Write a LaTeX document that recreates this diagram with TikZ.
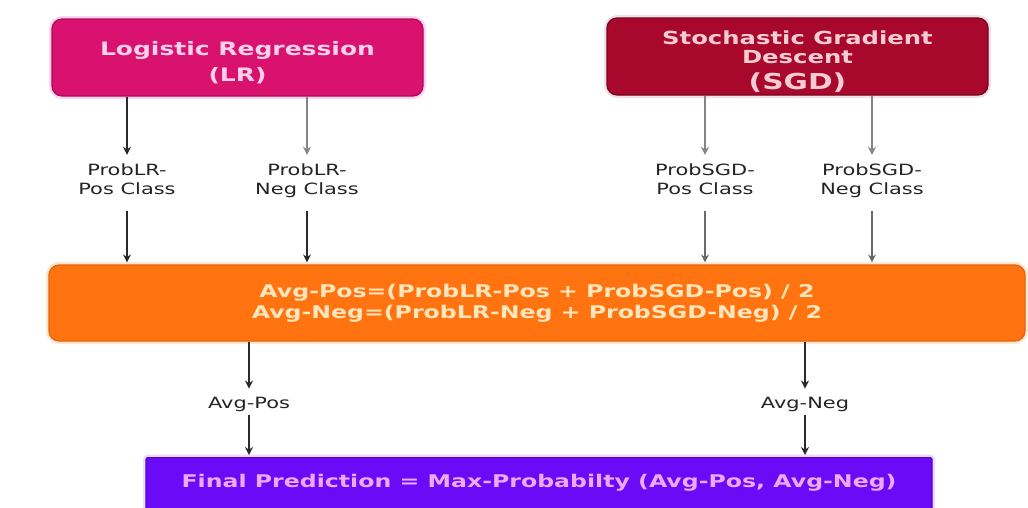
\documentclass[tikz,border=0pt]{standalone}
\usepackage{fontspec}
\setmainfont{DejaVu Sans}
\newfontfamily\wbold{DejaVu Sans Bold}[FakeStretch=1.35]
\newfontfamily\wreg{DejaVu Sans}[FakeStretch=1.35]
\usetikzlibrary{arrows.meta}
\definecolor{lrfill}{HTML}{D9126F}
\definecolor{lrdraw}{HTML}{B0085A}
\definecolor{lrtext}{HTML}{FAD0EA}
\definecolor{lrhalo}{HTML}{FBD6EC}
\definecolor{sgdfill}{HTML}{A8082C}
\definecolor{sgddraw}{HTML}{7E0020}
\definecolor{sgdtext}{HTML}{F4CCD2}
\definecolor{sgdhalo}{HTML}{EFE2E4}
\definecolor{orfill}{HTML}{FF7410}
\definecolor{ordraw}{HTML}{E2620A}
\definecolor{ortext}{HTML}{FFE6BC}
\definecolor{orhalo}{HTML}{FDE8D2}
\definecolor{pufill}{HTML}{6A0AF6}
\definecolor{pudraw}{HTML}{5400D6}
\definecolor{putext}{HTML}{F0A8F6}
\definecolor{puhalo}{HTML}{EADCFF}
\definecolor{lblcol}{HTML}{242424}
\definecolor{darkarr}{HTML}{2A2A2A}
\definecolor{grayarr}{HTML}{858585}
\begin{document}
\begin{tikzpicture}[x=1pt,y=-1pt,
  box/.style={rounded corners=10pt, line width=1.2pt, align=center, inner sep=0pt},
  lbl/.style={font=\wreg\fontsize{15.5}{19}\selectfont, text=lblcol, align=center, inner sep=0pt},
  arr/.style={-{Stealth[length=8pt,width=8pt]}, line width=1.4pt, draw=darkarr},
  garr/.style={arr, draw=grayarr}]
\useasboundingbox (0,0) rectangle (1028,507);
\fill[white] (0,0) rectangle (1028,507);

\node[box, preaction={draw=lrhalo, line width=6pt}, fill=lrfill, draw=lrdraw, text=lrtext,
  minimum width=371pt, minimum height=77pt, font=\wbold\fontsize{18.5}{26}\selectfont]
  (lr) at (237.5,57.5) {\rule{0pt}{24pt}Logistic Regression\\(LR)};
\node[box, preaction={draw=sgdhalo, line width=6pt}, fill=sgdfill, draw=sgddraw, text=sgdtext,
  minimum width=381pt, minimum height=77pt, font=\wbold\fontsize{18}{19}\selectfont]
  (sgd) at (797.5,56.5) {\rule{0pt}{23.5pt}Stochastic Gradient\\Descent\\[7pt]{\fontsize{22}{19}\selectfont (SGD)}};

\node[lbl] (lrpos) at (127,181) {ProbLR-\\Pos Class\vphantom{g}};
\node[lbl] (lrneg) at (307,181) {ProbLR-\\Neg Class};
\node[lbl] (sgdpos) at (705,181) {ProbSGD-\\Pos Class\vphantom{g}};
\node[lbl] (sgdneg) at (872,181) {ProbSGD-\\Neg Class};

\node[box, preaction={draw=orhalo, line width=6pt}, fill=orfill, draw=ordraw, text=ortext,
  minimum width=976pt, minimum height=76pt, font=\wbold\fontsize{17.5}{21}\selectfont]
  (avg) at (537,303) {Avg-Pos=(ProbLR-Pos + ProbSGD-Pos) / 2\\Avg-Neg=(ProbLR-Neg + ProbSGD-Neg) / 2};

\node[lbl] (apos) at (249,404) {Avg-Pos\vphantom{g}};
\node[lbl] (aneg) at (805,404) {Avg-Neg};

\node[box, rounded corners=2pt, preaction={draw=puhalo, line width=6pt}, fill=pufill, draw=pudraw, text=putext,
  minimum width=786pt, inner ysep=0pt, text height=30pt, text depth=45pt, anchor=north,
  font=\wbold\fontsize{17.5}{21}\selectfont]
  (final) at (539,457) {Final Prediction = Max-Probabilty (Avg-Pos, Avg-Neg)};

% LR arrows
\draw[arr, shorten >=9pt] (lr.south -| lrpos.north) -- (lrpos.north);
\draw[garr, shorten >=9pt] (lr.south -| lrneg.north) -- (lrneg.north);
\draw[arr, shorten <=13pt, shorten >=2pt] (lrpos.south) -- (lrpos.south |- avg.north);
\draw[arr, shorten <=13pt, shorten >=2pt] (lrneg.south) -- (lrneg.south |- avg.north);
% SGD arrows
\draw[garr, shorten >=9pt] (sgd.south -| sgdpos.north) -- (sgdpos.north);
\draw[garr, shorten >=9pt] (sgd.south -| sgdneg.north) -- (sgdneg.north);
\draw[arr, draw=grayarr!70!darkarr, shorten <=13pt, shorten >=2pt] (sgdpos.south) -- (sgdpos.south |- avg.north);
\draw[arr, draw=grayarr!70!darkarr, shorten <=13pt, shorten >=2pt] (sgdneg.south) -- (sgdneg.south |- avg.north);
% average arrows
\draw[arr, shorten >=8pt] (avg.south -| apos.north) -- (apos.north);
\draw[arr, shorten >=8pt] (avg.south -| aneg.north) -- (aneg.north);
\draw[arr, shorten <=4pt, shorten >=2pt] (apos.south) -- (apos.south |- final.north);
\draw[arr, shorten <=4pt, shorten >=2pt] (aneg.south) -- (aneg.south |- final.north);
\end{tikzpicture}
\end{document}
